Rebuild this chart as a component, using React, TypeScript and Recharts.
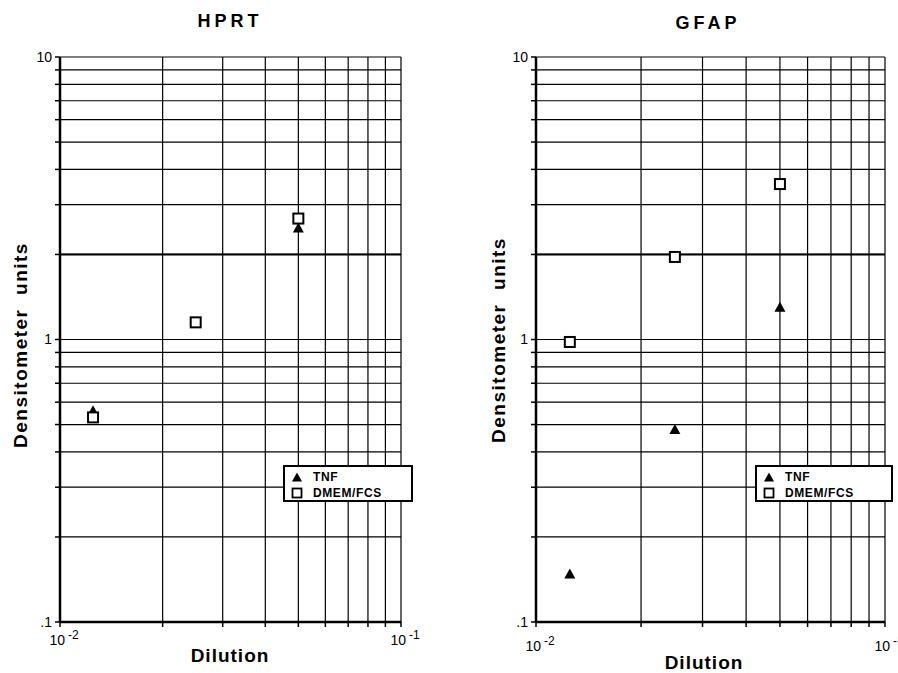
import React from 'react';
import { ScatterChart, Scatter, XAxis, YAxis, CartesianGrid, ReferenceLine } from 'recharts';

const dilution = [0.0125, 0.025, 0.05];
const hprtTNF = [0.56, 1.15, 2.48];
const hprtDMEM = [0.53, 1.15, 2.68];
const gfapTNF = [0.148, 0.48, 1.3];
const gfapDMEM = [0.98, 1.96, 3.55];

const xTicks = [0.01, 0.02, 0.03, 0.04, 0.05, 0.06, 0.07, 0.08, 0.09, 0.1];
const yTicks = [0.1, 0.2, 0.3, 0.4, 0.5, 0.6, 0.7, 0.8, 0.9, 1, 2, 3, 4, 5, 6, 7, 8, 9, 10];
const yTickLabels: Record<string, string> = { '0.1': '.1', '1': '1', '10': '10' };
const xTickExp: Record<string, string> = { '0.01': '-2', '0.1': '-1' };
const seriesNames = ['TNF', 'DMEM/FCS'];

const FONT = '"Liberation Sans", Arial, Helvetica, sans-serif';

const toPts = (ys: number[]) => dilution.map((x, i) => ({ x, y: ys[i] }));

const Triangle = (props: any) => {
  const { cx, cy } = props;
  if (cx == null || cy == null) return <g />;
  return <path d={`M${cx},${cy - 5.5}L${cx + 5.5},${cy + 4.5}L${cx - 5.5},${cy + 4.5}Z`} fill="#000" />;
};
const Square = (props: any) => {
  const { cx, cy } = props;
  if (cx == null || cy == null) return <g />;
  return <rect x={cx - 5} y={cy - 5} width={10} height={10} fill="#fff" stroke="#000" strokeWidth={2} />;
};

const makeXTick = (dy: number) => (props: any) => {
  const { x, y, payload } = props;
  const exp = xTickExp[String(payload.value)];
  if (!exp) return <g />;
  return (
    <text x={x + 4} y={y + dy} textAnchor="middle" fontSize={14} fontFamily={FONT} fill="#000">
      <tspan>10</tspan>
      <tspan dx={3} dy={-6} fontSize={12}>{exp}</tspan>
    </text>
  );
};

type PanelProps = {
  left: number;
  yAxisWidth: number;
  rightMargin: number;
  tnf: number[];
  dmem: number[];
  tickDy: number;
};

const Panel = ({ left, yAxisWidth, rightMargin, tnf, dmem, tickDy }: PanelProps) => (
  <div style={{ position: 'absolute', left, top: 0 }}>
    <ScatterChart
      width={449}
      height={673}
      margin={{ top: 57, right: rightMargin, bottom: 11, left: 0 }}
    >
      <CartesianGrid stroke="#000" strokeWidth={1.2} />
      <XAxis
        dataKey="x"
        type="number"
        scale="log"
        domain={[0.01, 0.1]}
        ticks={xTicks}
        allowDataOverflow
        height={40}
        tickSize={5}
        tickLine={{ stroke: '#000', strokeWidth: 1.5 }}
        axisLine={{ stroke: '#000', strokeWidth: 2.5 }}
        tick={makeXTick(tickDy)}
        interval={0}
      />
      <YAxis
        dataKey="y"
        type="number"
        scale="log"
        domain={[0.1, 10]}
        ticks={yTicks}
        allowDataOverflow
        width={yAxisWidth}
        tickSize={5}
        tickMargin={3}
        interval={0}
        tickLine={{ stroke: '#000', strokeWidth: 1.5 }}
        axisLine={{ stroke: '#000', strokeWidth: 2.5 }}
        tick={{ fontSize: 14, fontFamily: FONT, fill: '#000' }}
        tickFormatter={(v: number) => yTickLabels[String(v)] ?? ''}
      />
      <ReferenceLine y={2} stroke="#000" strokeWidth={2} />
      <Scatter name={seriesNames[0]} data={toPts(tnf)} shape={Triangle} isAnimationActive={false} />
      <Scatter name={seriesNames[1]} data={toPts(dmem)} shape={Square} isAnimationActive={false} />
    </ScatterChart>
  </div>
);

const Label = ({ x, y, text, size, spacing, rotate }: any) => (
  <div
    style={{
      position: 'absolute',
      left: x,
      top: y,
      transform: `translate(-50%, -50%)${rotate ? ' rotate(-90deg)' : ''}`,
      fontFamily: FONT,
      fontWeight: 'bold',
      fontSize: size,
      letterSpacing: spacing,
      lineHeight: 1,
      whiteSpace: 'pre',
      color: '#000',
    }}
  >
    {text}
  </div>
);

const LegendBox = ({ left, top, width, height }: any) => (
  <div
    style={{
      position: 'absolute',
      left,
      top,
      width,
      height,
      boxSizing: 'border-box',
      border: '2px solid #000',
      background: '#fff',
      fontFamily: FONT,
      fontWeight: 'bold',
      fontSize: 12,
      letterSpacing: 0.6,
      color: '#000',
    }}
  >
    {seriesNames.map((name, i) => (
      <div key={name} style={{ position: 'absolute', left: 6, top: i === 0 ? 3 : 19, height: 14, display: 'flex', alignItems: 'center' }}>
        <svg width={12} height={12} style={{ display: 'block' }}>
          {i === 0 ? (
            <path d="M6,1.5L11,10.5L1,10.5Z" fill="#000" />
          ) : (
            <rect x={1.5} y={1.5} width={9} height={9} fill="#fff" stroke="#000" strokeWidth={1.8} />
          )}
        </svg>
        <span style={{ marginLeft: 10 }}>{name}</span>
      </div>
    ))}
  </div>
);

export default function App() {
  return (
    <div style={{ position: 'absolute', left: 0, top: 0, width: 898, height: 673, overflow: 'hidden', background: '#fff' }}>
      <Panel left={0} yAxisWidth={60} rightMargin={48} tnf={hprtTNF} dmem={hprtDMEM} tickDy={16} />
      <Panel left={449} yAxisWidth={87} rightMargin={13} tnf={gfapTNF} dmem={gfapDMEM} tickDy={22} />
      <Label x={230} y={21} text="HPRT" size={18} spacing={4} />
      <Label x={708} y={23} text="GFAP" size={18} spacing={4} />
      <Label x={20} y={345} text={'Densitometer  units'} size={19} spacing={1.5} rotate />
      <Label x={498} y={340} text={'Densitometer  units'} size={19} spacing={1.5} rotate />
      <Label x={230} y={655} text="Dilution" size={19} spacing={1} />
      <Label x={704} y={662} text="Dilution" size={19} spacing={1} />
      <LegendBox left={283} top={465} width={130} height={37} />
      <LegendBox left={755} top={465} width={138} height={37} />
    </div>
  );
}
